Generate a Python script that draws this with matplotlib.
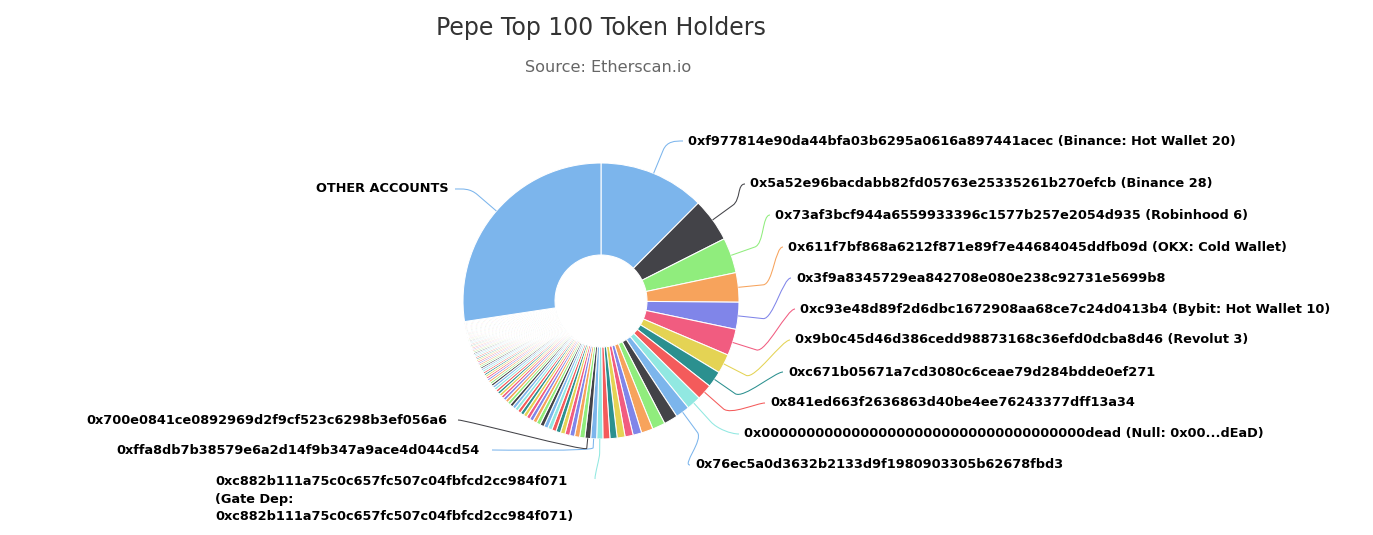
import matplotlib
matplotlib.use('Agg')
import matplotlib.pyplot as plt
import numpy as np
from matplotlib.path import Path
from matplotlib.patches import PathPatch

# share of supply (%) of the top 100 holders, in rank order, then the rest
top_holders = [
    12.36, 5.08, 4.11, 3.42, 3.14, 3.08, 2.25, 1.89, 1.83, 1.67,
    1.64, 1.61, 1.50, 1.36, 1.00, 0.94, 0.92, 0.83, 0.81, 0.72,
    0.69, 0.67, 0.61, 0.59, 0.57, 0.56, 0.54, 0.53, 0.51, 0.50,
    0.49, 0.48, 0.47, 0.45, 0.44, 0.43, 0.42, 0.41, 0.40, 0.39,
    0.38, 0.37, 0.36, 0.35, 0.34, 0.33, 0.32, 0.31, 0.30, 0.30,
    0.29, 0.28, 0.25, 0.25, 0.24, 0.24, 0.23, 0.23, 0.22, 0.22,
    0.21, 0.21, 0.20, 0.20, 0.19, 0.19, 0.19, 0.18, 0.18, 0.18,
    0.17, 0.17, 0.17, 0.16, 0.16, 0.16, 0.15, 0.15, 0.15, 0.15,
    0.14, 0.14, 0.14, 0.14, 0.13, 0.13, 0.13, 0.13, 0.13, 0.12,
    0.12, 0.12, 0.12, 0.12, 0.12, 0.11, 0.11, 0.11, 0.11, 0.11,
]
other_accounts = 27.2

# holders whose label is drawn (rank index -> label)
labelled_idx = [0, 1, 2, 3, 4, 5, 6, 7, 8, 9, 10, 19, 20, 21, 100]
labelled_txt = [
    "0xf977814e90da44bfa03b6295a0616a897441acec (Binance: Hot Wallet 20)",
    "0x5a52e96bacdabb82fd05763e25335261b270efcb (Binance 28)",
    "0x73af3bcf944a6559933396c1577b257e2054d935 (Robinhood 6)",
    "0x611f7bf868a6212f871e89f7e44684045ddfb09d (OKX: Cold Wallet)",
    "0x3f9a8345729ea842708e080e238c92731e5699b8",
    "0xc93e48d89f2d6dbc1672908aa68ce7c24d0413b4 (Bybit: Hot Wallet 10)",
    "0x9b0c45d46d386cedd98873168c36efd0dcba8d46 (Revolut 3)",
    "0xc671b05671a7cd3080c6ceae79d284bdde0ef271",
    "0x841ed663f2636863d40be4ee76243377dff13a34",
    "0x000000000000000000000000000000000000dead (Null: 0x00...dEaD)",
    "0x76ec5a0d3632b2133d9f1980903305b62678fbd3",
    "0xc882b111a75c0c657fc507c04fbfcd2cc984f071\n(Gate Dep:\n0xc882b111a75c0c657fc507c04fbfcd2cc984f071)",
    "0xffa8db7b38579e6a2d14f9b347a9ace4d044cd54",
    "0x700e0841ce0892969d2f9cf523c6298b3ef056a6",
    "OTHER ACCOUNTS",
]

palette = ['#7cb5ec', '#434348', '#90ed7d', '#f7a35c', '#8085e9',
           '#f15c80', '#e4d354', '#2b908f', '#f45b5b', '#91e8e1']

W, H = 1373, 535
CX, CY = 601, 301
R, R_IN = 138, 46

# label layout in pixels (y down): text x, text y, align, connector end (x, y), break offset
layout = [
    (688, 141, 'left', (683, 141), 25),
    (750, 184, 'left', (745, 184), 25),
    (775, 215, 'left', (770, 215), 25),
    (788, 247, 'left', (783, 247), 25),
    (796, 278, 'left', (791, 278), 25),
    (800, 309, 'left', (795, 309), 25),
    (795, 340, 'left', (790, 340), 25),
    (788, 372, 'left', (783, 372), 25),
    (770, 403, 'left', (765, 403), 25),
    (744, 434, 'left', (739, 434), 25),
    (695, 465, 'left', (690, 465), 25),
    (215, 482, 'left', (595, 479), 14),
    (480, 450, 'right', (492, 450), 9),
    (447, 420, 'right', (458, 420), 10),
    (449, 189, 'right', (455, 189), 25),
]

values = top_holders + [other_accounts]
colors = [palette[i % 10] for i in range(len(values))]

fig = plt.figure(figsize=(13.73, 5.35), dpi=100)
ax = fig.add_axes([0, 0, 1, 1])

wedges, _ = ax.pie(values, colors=colors, startangle=90, counterclock=False,
                   radius=R, center=(CX, H - CY),
                   wedgeprops=dict(width=R - R_IN, edgecolor='white', linewidth=0.75))
ax.set_xlim(0, W)
ax.set_ylim(0, H)
ax.set_aspect('equal')
ax.axis('off')

for idx, txt, (tx, ty, ha, (ex, ey), off) in zip(labelled_idx, labelled_txt, layout):
    w = wedges[idx]
    mid = np.deg2rad((w.theta1 + w.theta2) / 2)
    d = np.array([np.cos(mid), np.sin(mid)])
    p0 = np.array([CX, H - CY]) + R * d
    brk = p0 + off * d
    c2 = brk + 0.4 * off * d
    end = np.array([ex, H - ey])
    if '\n' in txt:
        c1 = end + np.array([0, 6])
    elif ha == 'left':
        c1 = end + np.array([-8, 0])
    else:
        c1 = end + np.array([8, 0])
    path = Path([end, c1, c2, brk, p0],
                [Path.MOVETO, Path.CURVE4, Path.CURVE4, Path.CURVE4, Path.LINETO])
    ax.add_patch(PathPatch(path, fill=False, edgecolor=colors[idx], linewidth=0.75))
    if '\n' in txt:
        ax.text(tx, H - ty + 7, txt, ha=ha, va='top', fontsize=9.3,
                fontweight='bold', color='black', linespacing=1.45)
    else:
        ax.text(tx, H - ty, txt, ha=ha, va='center', fontsize=9.3,
                fontweight='bold', color='black')

ax.text(601, H - 28, "Pepe Top 100 Token Holders", ha='center', va='center',
        fontsize=17, color='#333333')
ax.text(608, H - 67, "Source: Etherscan.io", ha='center', va='center',
        fontsize=11.6, color='#666666')

fig.savefig('out.png', dpi=100, facecolor='white')
